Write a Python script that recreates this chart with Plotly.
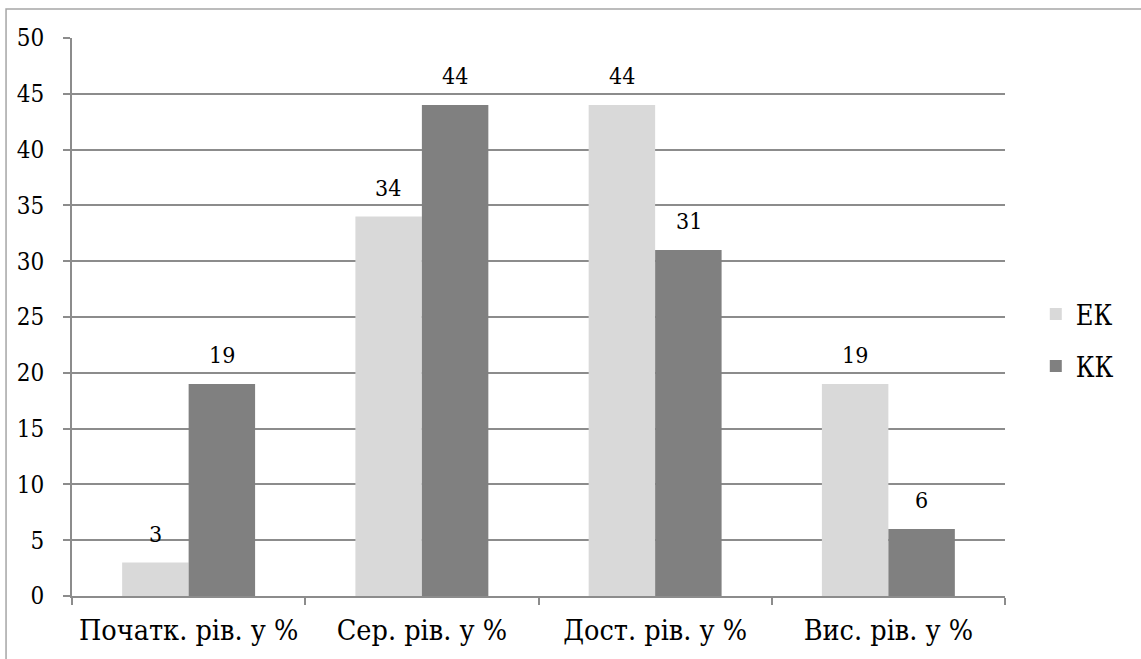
import plotly.graph_objects as go

categories = ["Початк. рів. у %", "Сер. рів. у %", "Дост. рів. у %", "Вис. рів. у %"]
ek_values = [3, 34, 44, 19]
kk_values = [19, 44, 31, 6]
series_names = ["ЕК", "КК"]
y_ticks = [0, 5, 10, 15, 20, 25, 30, 35, 40, 45, 50]

FONT = "DejaVu Serif Condensed"
EK_COLOR = "#d9d9d9"
KK_COLOR = "#808080"
GRID = "#8c8c8c"

fig = go.Figure()
fig.add_trace(go.Bar(name=series_names[0], x=categories, y=ek_values,
                     marker=dict(color=EK_COLOR, line=dict(width=0)),
                     legendgroup="a"))
fig.add_trace(go.Bar(name=series_names[1], x=categories, y=kk_values,
                     marker=dict(color=KK_COLOR, line=dict(width=0)),
                     legendgroup="b"))

annotations = []
for vals, shift in ((ek_values, -33.5), (kk_values, 33.5)):
    for c, v in zip(categories, vals):
        annotations.append(dict(x=c, y=v, text=str(v), showarrow=False,
                                xref="x", yref="y", xshift=shift, yshift=14,
                                yanchor="bottom", font=dict(family=FONT, size=23, color="#000")))

fig.update_layout(
    width=1141, height=659,
    margin=dict(l=72, r=136, t=38, b=63),
    paper_bgcolor="white", plot_bgcolor="white",
    barmode="group", bargap=0.43, bargroupgap=0,
    font=dict(family=FONT, size=23, color="#000"),
    showlegend=True,
    legend=dict(x=1.033, y=0.458, xanchor="left", yanchor="middle",
                font=dict(family=FONT, size=27, color="#000"),
                tracegroupgap=14, traceorder="grouped", bgcolor="rgba(0,0,0,0)"),
    annotations=annotations,
    shapes=[dict(type="rect", xref="paper", yref="paper",
                 x0=-0.0707, x1=1.2, y0=-0.2, y1=1.052,
                 line=dict(color="#a6a6a6", width=1.5), fillcolor="rgba(0,0,0,0)",
                 layer="below")],
)
fig.update_xaxes(type="category", showgrid=False, showline=True, linecolor=GRID, linewidth=2,
                 ticks="outside", tickson="boundaries", ticklen=7, tickcolor=GRID, tickwidth=1.5,
                 tickfont=dict(family=FONT, size=28.5, color="#000"), ticklabelstandoff=8)
fig.update_yaxes(range=[0, 50], tickvals=y_ticks, showgrid=True, gridcolor=GRID, gridwidth=1.5,
                 showline=True, linecolor=GRID, linewidth=2, zeroline=False,
                 ticks="outside", ticklen=7, tickcolor=GRID, tickwidth=1.5,
                 tickfont=dict(family=FONT, size=24, color="#000"), ticklabelstandoff=14)

fig.write_html("out.html", config={"displayModeBar": False},
               post_script="document.body.style.margin='0';document.body.style.overflow='hidden';")
